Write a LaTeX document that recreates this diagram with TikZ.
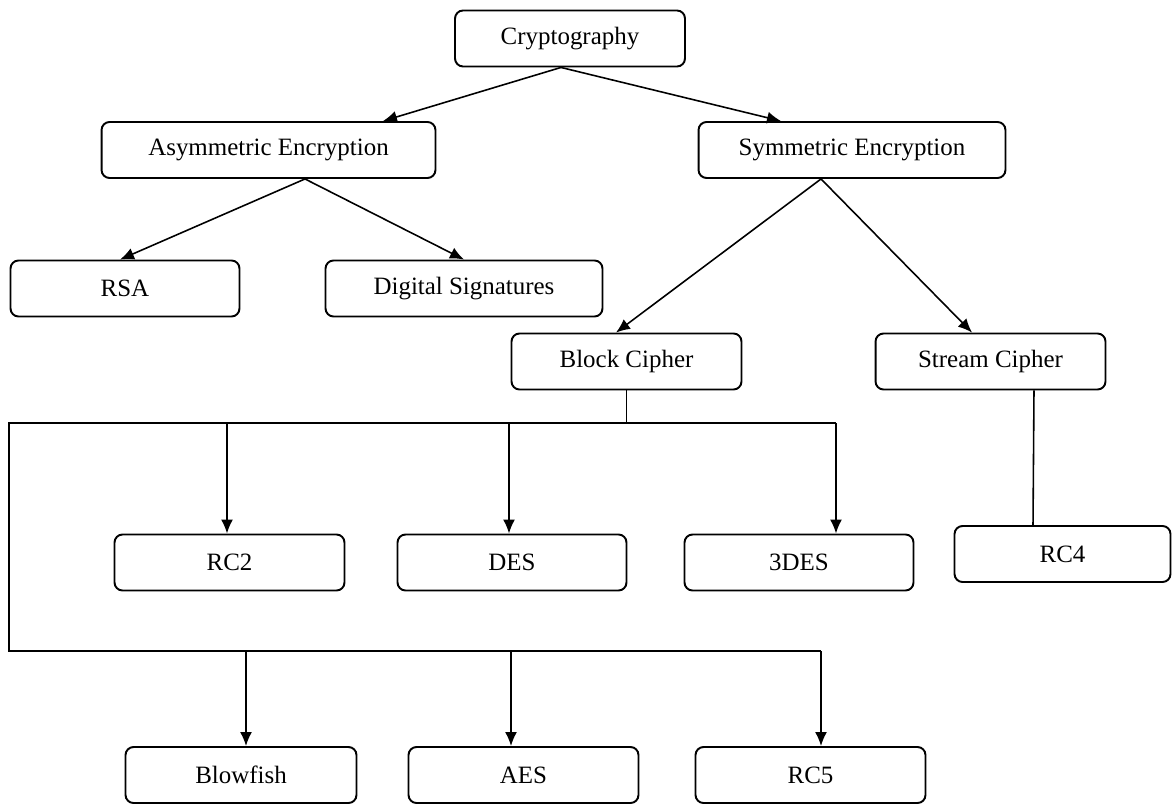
\documentclass[tikz,border=0pt]{standalone}
\usepackage{fontspec}
\setmainfont{Liberation Serif}
\usetikzlibrary{arrows.meta}

\tikzset{
  box/.style={draw, rounded corners=0.16cm, line width=1.1pt, inner sep=0pt,
    minimum height=1.12cm, font=\fontsize{14.2}{16}\selectfont},
  link/.style={line width=0.9pt}
}

\begin{document}
\begin{tikzpicture}[>={Latex[length=2.8mm,width=2.4mm]}, x=0.02cm, y=-0.02cm]

\useasboundingbox (0,0) rectangle (1173,804);

% boxes
\node[box, minimum width=4.6cm] (crypto) at (570,38.5) {Cryptography};
\node[box, minimum width=6.68cm] (asym) at (268.5,150) {Asymmetric Encryption};
\node[box, minimum width=6.14cm] (sym) at (852,150) {Symmetric Encryption};

\node[box, minimum width=4.58cm] (rsa) at (125,288.5) {RSA};
\node[box, minimum width=5.54cm] (dsig) at (464,288.5) {Digital Signatures};
\node[box, minimum width=4.6cm] (block) at (626.5,361.5) {Block Cipher};
\node[box, minimum width=4.6cm] (stream) at (990.5,361.5) {Stream Cipher};

\node[box, minimum width=4.6cm] (rc2) at (229.5,562.5) {RC2};
\node[box, minimum width=4.58cm] (des) at (512,562.5) {DES};
\node[box, minimum width=4.58cm] (tdes) at (799,562.5) {3DES};
\node[box, minimum width=4.32cm] (rc4) at (1062.5,554) {RC4};

\node[box, minimum width=4.62cm] (blowfish) at (241,775) {Blowfish};
\node[box, minimum width=4.6cm] (aes) at (523.5,775) {AES};
\node[box, minimum width=4.6cm] (rc5) at (810.5,775) {RC5};

% tree links
\draw[link, ->] ([xshift=-0.18cm]crypto.south) -- ([xshift=2.29cm]asym.north);
\draw[link, ->] ([xshift=-0.18cm]crypto.south) -- ([xshift=-1.42cm]sym.north);

\draw[link, ->] ([xshift=0.73cm]asym.south) -- ([xshift=-0.1cm]rsa.north);
\draw[link, ->] ([xshift=0.73cm]asym.south) -- (dsig.north);

\draw[link, ->] ([xshift=-0.62cm]sym.south) -- ([xshift=-0.21cm]block.north);
\draw[link, ->] ([xshift=-0.62cm]sym.south) -- ([xshift=-0.37cm]stream.north);

\draw[link] ([xshift=0.87cm]stream.south) -- ([xshift=-0.59cm]rc4.north);

% block cipher bus
\coordinate (busa) at (9,423);
\coordinate (busb) at (9,651);

\draw[link] (block.south) -- (block.south |- busa);
\draw[link] ([xshift=0.74cm]tdes.north |- busa) -- (busa) -- (busb)
  -- ([xshift=0.21cm]rc5.north |- busb);

\foreach \n/\s in {rc2/-0.05, des/-0.06, tdes/0.74}
  \draw[link, ->] ([xshift=\s cm]\n.north |- busa) -- ([xshift=\s cm]\n.north);

\foreach \n/\s in {blowfish/0.1, aes/-0.25, rc5/0.21}
  \draw[link, ->] ([xshift=\s cm]\n.north |- busb) -- ([xshift=\s cm]\n.north);

\end{tikzpicture}
\end{document}
